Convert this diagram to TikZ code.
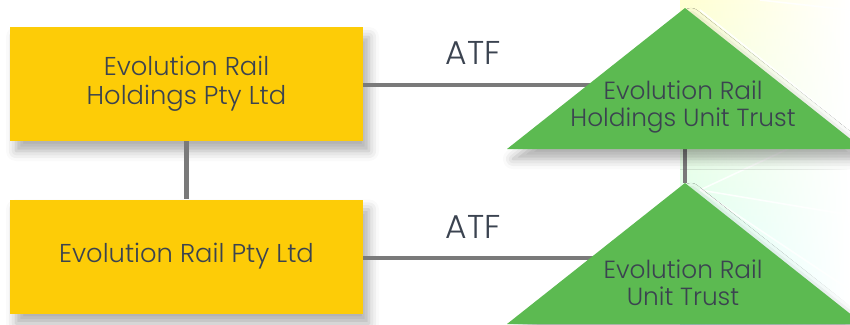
\documentclass[tikz,border=0pt]{standalone}
\usepackage{fontspec}
\setmainfont{Poppins}[UprightFont=* Light]
\usetikzlibrary{shadows.blur,fadings}
\definecolor{evyellow}{HTML}{FDCC07}
\definecolor{evgreen}{HTML}{5CBA51}
\definecolor{evgray}{HTML}{7A7A7A}
\definecolor{evtext}{HTML}{3B4350}
\tikzset{
  box/.style={fill=evyellow, minimum width=353pt, minimum height=114pt, inner sep=0pt,
    align=center, text=evtext, font=\fontsize{25.8}{29}\selectfont,
    blur shadow={shadow xshift=6pt, shadow yshift=-10pt, shadow blur radius=10pt, shadow opacity=32}},
  tri/.style={fill=evgreen,
    blur shadow={shadow xshift=6pt, shadow yshift=-10pt, shadow blur radius=10pt, shadow opacity=32}},
  ttext/.style={align=center, text=evtext, font=\fontsize{24.8}{27}\selectfont, inner sep=0pt},
  atf/.style={text=evtext, font=\fontsize{33}{34}\selectfont, inner sep=0pt},
  conn/.style={draw=evgray, line width=4.5pt},
  ray/.style={draw=white, line width=1.5pt, opacity=0.9}
}
\begin{document}
\begin{tikzpicture}[x=1pt,y=-1pt]
\useasboundingbox (0,0) rectangle (850,324);
% background glow
\shade[top color=yellow!18, middle color=green!14, bottom color=cyan!18, path fading=east]
  (680,0) rectangle (850,324);
\draw[ray] (700,190) -- (850,120);
\draw[ray] (700,190) -- (850,215);
\draw[ray] (700,190) -- (850,290);
\draw[ray] (700,10) -- (850,130);
\draw[ray] (760,0) -- (850,10);
% coordinates
\coordinate (t1apex) at (685,8);
\coordinate (t1base) at (685,149);
\coordinate (t1c) at (683,107);
\coordinate (t2apex) at (685,183);
\coordinate (t2c) at (683,283);
% boxes
\node[box] (hold) at (186.5,84) {Evolution Rail\\Holdings Pty Ltd};
\node[box] (prop) at (186.5,256.5) {Evolution Rail Pty Ltd};
% connectors
\draw[conn] ([yshift=-1pt]hold.east) -- ([yshift=-1pt]hold.east -| t1c);
\draw[conn] ([yshift=-1.5pt]prop.east) -- ([yshift=-1.5pt]prop.east -| t2c);
\draw[conn] (t1base) -- (t2apex);
\draw[conn] (hold.south) -- (prop.north);
% triangles
\fill[tri] (t1apex) -- (863,149) -- (507,149) -- cycle;
\fill[tri] (t2apex) -- (863,324) -- (507,324) -- cycle;
\node[ttext] (hut) at (t1c) {Evolution Rail\\Holdings Unit Trust};
\node[ttext] (ut) at (t2c) {Evolution Rail\\Unit Trust};
\node[atf] (atf1) at (473,53) {ATF};
\node[atf] (atf2) at (473,227) {ATF};
\end{tikzpicture}
\end{document}
